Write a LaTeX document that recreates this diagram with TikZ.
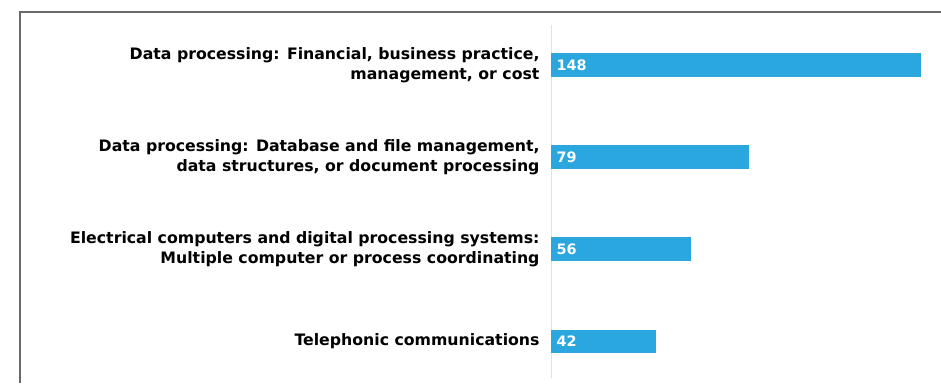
\documentclass[tikz,border=0pt]{standalone}
\usepackage{fontspec}
\setmainfont{DejaVu Sans}
\usetikzlibrary{positioning}
\definecolor{barblue}{RGB}{41,167,222}
\definecolor{framegrey}{RGB}{105,105,105}
\definecolor{axisgrey}{RGB}{226,226,226}
\tikzset{every picture/.style={line width=0.75pt}}

\begin{document}
\begin{tikzpicture}[x=0.75pt,y=0.75pt,yscale=-1,xscale=1,
  catlabel/.style={anchor=east,inner sep=0.75pt,align=right,font=\bfseries\fontsize{11.8}{15}\selectfont},
  countlabel/.style={anchor=west,inner sep=0.75pt,text=white,font=\bfseries\fontsize{10.8}{15}\selectfont}]
        \useasboundingbox (0,0) rectangle (941,383);

        %Shape: Frame
        \draw [color=framegrey, line width=1.5] (20,383) -- (20,12) -- (941,12) ;
        %Straight Lines: Axis
        \draw [color=axisgrey] (551,25) -- (551,378) ;

        %Shape: Rectangle [148]
        \fill [barblue] (551,53) rectangle (921,77) ;
        %Shape: Rectangle [79]
        \fill [barblue] (551,145) rectangle (748.5,169) ;
        %Shape: Rectangle [56]
        \fill [barblue] (551,237) rectangle (691,261) ;
        %Shape: Rectangle [42]
        \fill [barblue] (551,330) rectangle (656,353) ;

        % Text Node
        \node (finance) at (541,65) [catlabel] {Data processing: Financial, business practice,\\management, or cost};
        \node (database) at (541,157) [catlabel] {Data processing: Database and file management,\\data structures, or document processing};
        \node (electrical) at (541,249) [catlabel] {Electrical computers and digital processing systems:\\Multiple computer or process coordinating};
        \node (telephonic) at (541,341.5) [catlabel] {Telephonic communications};

        % Text Node
        \node (nfinance) at (555,65) [countlabel] {148};
        \node (ndatabase) at (555,157) [countlabel] {79};
        \node (nelectrical) at (555,249) [countlabel] {56};
        \node (ntelephonic) at (555,341.5) [countlabel] {42};

\end{tikzpicture}
\end{document}
